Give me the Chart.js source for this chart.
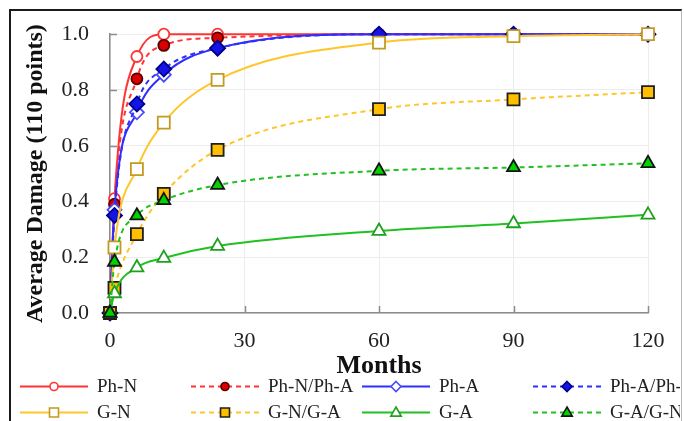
<!DOCTYPE html>
<html>
<head>
<meta charset="utf-8">
<script src="https://cdn.jsdelivr.net/npm/chart.js@4/dist/chart.umd.min.js"></script>
<style>
  html, body { margin: 0; padding: 0; background: #fff; }
  #wrap { position: relative; width: 684px; height: 421px; overflow: hidden; }
  #frame {
    position: absolute; left: 9px; top: 9px; width: 670px; height: 420px;
    border-top: 2px solid #1a1a1a; border-left: 2px solid #1a1a1a; border-right: 1px solid #b5b5b5;
    pointer-events: none;
  }
</style>
</head>
<body>
<div id="wrap">
  <canvas id="c" width="684" height="421"></canvas>
  <div id="frame"></div>
</div>
<script>
// Months after exposure
const months = [0, 1, 6, 12, 24, 60, 90, 120];

// Average damage per exposure scenario
const phN    = [0, 0.41, 0.92, 1.0, 1.0, 1.0, 1.0, 1.0];
const phNphA = [0, 0.39, 0.84, 0.96, 0.987, 1.0, 1.0, 1.0];
const phA    = [0, 0.37, 0.72, 0.855, 0.95, 1.0, 1.0, 1.0];
const phAphN = [0, 0.35, 0.75, 0.875, 0.95, 1.0, 1.0, 1.0];
const gN     = [0, 0.235, 0.516, 0.683, 0.836, 0.97, 0.993, 1.0];
const gNgA   = [0, 0.09, 0.283, 0.427, 0.585, 0.731, 0.766, 0.792];
const gA     = [0, 0.07, 0.163, 0.197, 0.24, 0.294, 0.321, 0.352];
const gAgN   = [0, 0.183, 0.349, 0.404, 0.459, 0.51, 0.522, 0.537];

const seriesNames = ['Ph-N', 'Ph-N/Ph-A', 'Ph-A', 'Ph-A/Ph-N', 'G-N', 'G-N/G-A', 'G-A', 'G-A/G-N'];
const seriesValues = [phN, phNphA, phA, phAphN, gN, gNgA, gA, gAgN];

const xTicks = [0, 30, 60, 90, 120];
const yTicks = [0, 0.2, 0.4, 0.6, 0.8, 1.0];

const DASH = [5, 4];
const styles = [
  { line: '#ff3434', dash: [],   shape: 'circle',   r: 5.5, fill: '#ffffff', edge: '#ff3434' },
  { line: '#ff3434', dash: DASH, shape: 'circle',   r: 5.5, fill: '#d80000', edge: '#5a0000' },
  { line: '#2e2eff', dash: [],   shape: 'rectRot',  r: 7,   fill: '#ffffff', edge: '#4a4aff' },
  { line: '#2e2eff', dash: DASH, shape: 'rectRot',  r: 7.5, fill: '#1414e6', edge: '#00008a' },
  { line: '#ffc62a', dash: [],   shape: 'rect',     r: 8.5, fill: '#ffffff', edge: '#c49a22' },
  { line: '#ffc62a', dash: DASH, shape: 'rect',     r: 8.5, fill: '#ffbf00', edge: '#1e1e1e' },
  { line: '#22c022', dash: [],   shape: 'triangle', r: 7.5, fill: '#ffffff', edge: '#1ea01e' },
  { line: '#22c022', dash: DASH, shape: 'triangle', r: 7.5, fill: '#00d400', edge: '#141414' }
];

const datasets = seriesNames.map((name, i) => ({
  label: name,
  data: months.map((m, k) => ({ x: m, y: seriesValues[i][k] })),
  borderColor: styles[i].line,
  borderWidth: 2,
  borderDash: styles[i].dash,
  cubicInterpolationMode: 'monotone',
  pointStyle: styles[i].shape,
  pointRadius: styles[i].r,
  pointBackgroundColor: styles[i].fill,
  pointBorderColor: styles[i].edge,
  pointBorderWidth: 1.8,
  fill: false,
  clip: false,
  order: seriesNames.length - i
}));

// Short tick marks pointing into the plot area
const innerTicks = {
  id: 'innerTicks',
  beforeDatasetsDraw(chart) {
    const { ctx, chartArea, scales } = chart;
    ctx.save();
    ctx.strokeStyle = '#8c8c8c';
    ctx.lineWidth = 1.5;
    ctx.beginPath();
    scales.x.ticks.forEach(t => {
      if (t.value === 0) return;
      const px = Math.round(scales.x.getPixelForValue(t.value)) + 0.5;
      ctx.moveTo(px, chartArea.bottom);
      ctx.lineTo(px, chartArea.bottom - 7);
    });
    scales.y.ticks.forEach(t => {
      if (t.value === 0) return;
      const py = Math.round(scales.y.getPixelForValue(t.value)) + 0.5;
      ctx.moveTo(chartArea.left, py);
      ctx.lineTo(chartArea.left + 7, py);
    });
    ctx.stroke();
    ctx.restore();
  }
};

function marker(ctx, shape, x, y, r) {
  ctx.beginPath();
  if (shape === 'circle') {
    ctx.arc(x, y, r, 0, Math.PI * 2);
  } else if (shape === 'rect') {
    ctx.rect(x - r, y - r, 2 * r, 2 * r);
  } else if (shape === 'rectRot') {
    ctx.moveTo(x, y - r); ctx.lineTo(x + r, y); ctx.lineTo(x, y + r); ctx.lineTo(x - r, y);
    ctx.closePath();
  } else if (shape === 'triangle') {
    ctx.moveTo(x, y - r);
    ctx.lineTo(x + r * 0.95, y + r * 0.65);
    ctx.lineTo(x - r * 0.95, y + r * 0.65);
    ctx.closePath();
  }
  ctx.fill();
  ctx.stroke();
}

// Two-row legend with line samples and markers
const sampleLegend = {
  id: 'sampleLegend',
  afterDraw(chart) {
    const ctx = chart.ctx;
    const legendSizes = { circle: 4, rect: 4.5, rectRot: 5, triangle: 5.5 };
    ctx.save();
    ctx.beginPath();
    ctx.rect(0, 0, 680, 421);
    ctx.clip();
    chart.data.datasets.forEach((ds, i) => {
      const col = i % 4, row = Math.floor(i / 4);
      const x0 = 20 + col * 171;
      const y = 386.5 + row * 26;
      const s = styles[i];
      ctx.strokeStyle = s.line;
      ctx.lineWidth = 2;
      ctx.setLineDash(s.dash);
      ctx.beginPath();
      ctx.moveTo(x0, y);
      ctx.lineTo(x0 + 68, y);
      ctx.stroke();
      ctx.setLineDash([]);
      ctx.fillStyle = s.fill;
      ctx.strokeStyle = s.edge;
      ctx.lineWidth = 1.6;
      marker(ctx, s.shape, x0 + 34, y, legendSizes[s.shape]);
      ctx.fillStyle = '#222';
      ctx.font = '19px "Liberation Serif"';
      ctx.textAlign = 'left';
      ctx.textBaseline = 'middle';
      ctx.fillText(ds.label, x0 + 77, y + 1);
    });
    ctx.restore();
  }
};

new Chart(document.getElementById('c'), {
  type: 'line',
  data: { datasets },
  plugins: [innerTicks, sampleLegend],
  options: {
    responsive: false,
    animation: false,
    devicePixelRatio: 1,
    layout: { padding: { left: 0, right: 36, top: 23, bottom: 0 } },
    plugins: { legend: { display: false }, tooltip: { enabled: false } },
    scales: {
      x: {
        type: 'linear',
        min: 0, max: 120,
        afterBuildTicks: s => { s.ticks = xTicks.map(v => ({ value: v })); },
        afterFit: s => { s.height = 108; },
        ticks: { padding: 15, color: '#222', font: { family: 'Liberation Serif', size: 22 } },
        grid: { color: '#ececec', lineWidth: 1, drawTicks: false },
        border: { color: '#8c8c8c', width: 1.5 },
        title: { display: true, text: 'Months', color: '#111',
                 font: { family: 'Liberation Serif', size: 26, weight: 'bold' },
                 padding: { top: 0, bottom: 39 } }
      },
      y: {
        min: 0, max: 1,
        afterBuildTicks: s => { s.ticks = yTicks.map(v => ({ value: v })); },
        afterFit: s => { s.width = 110; },
        ticks: { padding: 21, color: '#222', font: { family: 'Liberation Serif', size: 22 },
                 callback: v => Number(v).toFixed(1) },
        grid: { color: '#ececec', lineWidth: 1, drawTicks: false },
        border: { color: '#8c8c8c', width: 1.5 },
        title: { display: true, text: 'Average Damage (110 points)', color: '#111',
                 font: { family: 'Liberation Serif', size: 24, weight: 'bold' },
                 padding: { top: 21, bottom: 0 } }
      }
    }
  }
});
</script>
</body>
</html>
